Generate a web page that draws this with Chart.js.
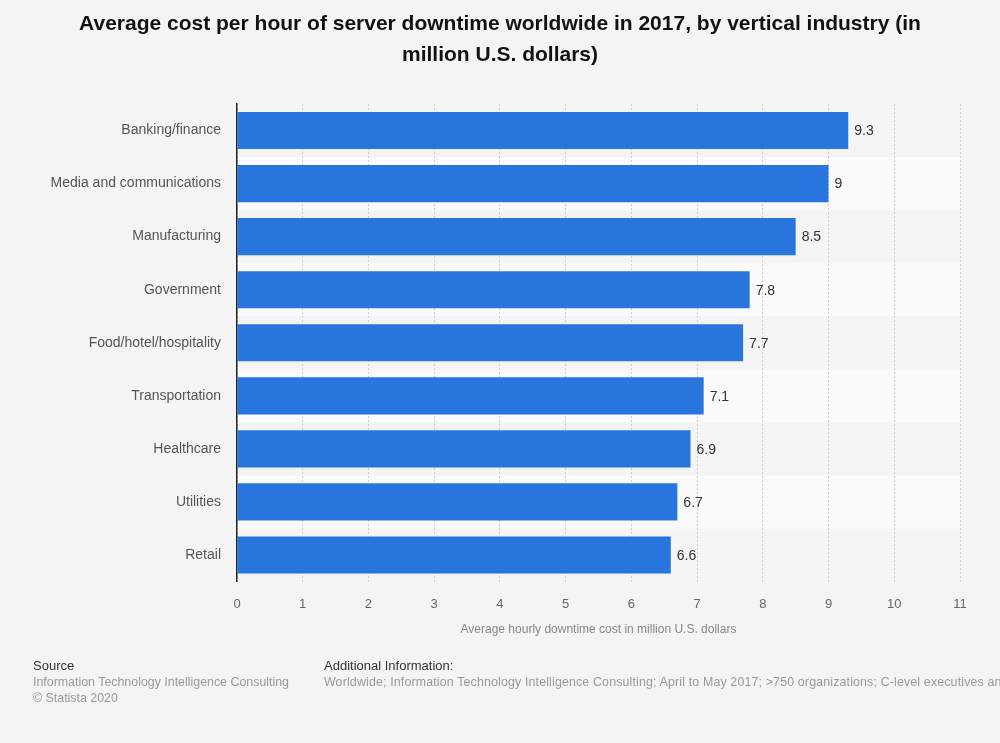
<!DOCTYPE html>
<html>
<head>
<meta charset="utf-8">
<script src="https://cdn.jsdelivr.net/npm/chart.js@4"></script>
<style>
  html, body { margin: 0; padding: 0; background: #f4f4f4; font-family: "Liberation Sans", Arial, sans-serif; }
  #wrap { position: relative; width: 1000px; height: 743px; overflow: hidden; }
  #chart { position: absolute; left: 0; top: 0; }
  .title { position: absolute; left: 0; top: 7px; width: 1000px; text-align: center; font-weight: bold; font-size: 21px; line-height: 31px; color: #111; }
  .foot { position: absolute; top: 658px; font-size: 12.4px; line-height: 16px; color: #999; white-space: nowrap; }
  .foot b { font-weight: normal; color: #333; font-size: 13px; display: block; }
  .wide { letter-spacing: 0.15px; }
</style>
</head>
<body>
<div id="wrap">
  <canvas id="chart" width="1000" height="743"></canvas>
  <div class="title">Average cost per hour of server downtime worldwide in 2017, by vertical industry (in<br>million U.S. dollars)</div>
  <div class="foot" style="left:33px"><b>Source</b>Information Technology Intelligence Consulting<br>© Statista 2020</div>
  <div class="foot" style="left:324px"><b>Additional Information:</b><span class="wide">Worldwide; Information Technology Intelligence Consulting; April to May 2017; &gt;750 organizations; C-level executives and IT managers</span></div>
</div>
<script>
// ── data ──
const industries = ['Banking/finance', 'Media and communications', 'Manufacturing', 'Government',
  'Food/hotel/hospitality', 'Transportation', 'Healthcare', 'Utilities', 'Retail'];
const costs = [9.3, 9, 8.5, 7.8, 7.7, 7.1, 6.9, 6.7, 6.6];
const xTicks = [0, 1, 2, 3, 4, 5, 6, 7, 8, 9, 10, 11];

const FONT = '"Liberation Sans", Arial, sans-serif';

// alternating row bands behind the grid
const bandPlugin = {
  id: 'bands',
  beforeDraw(chart) {
    const { ctx, chartArea, scales } = chart;
    const y = scales.y;
    const half = (y.getPixelForValue(1) - y.getPixelForValue(0)) / 2;
    ctx.save();
    ctx.fillStyle = '#fafafa';
    industries.forEach((_, i) => {
      if (i % 2 === 1) {
        const c = y.getPixelForValue(i);
        ctx.fillRect(chartArea.left, c - half, chartArea.right - chartArea.left, half * 2);
      }
    });
    ctx.restore();
  }
};

// value labels at bar ends
const valuePlugin = {
  id: 'values',
  afterDatasetsDraw(chart) {
    const { ctx } = chart;
    ctx.save();
    ctx.font = '14px ' + FONT;
    ctx.fillStyle = '#333';
    ctx.textBaseline = 'middle';
    chart.getDatasetMeta(0).data.forEach((bar, i) => {
      ctx.fillText(String(costs[i]), bar.x + 6, bar.y + 1);
    });
    ctx.restore();
  }
};

new Chart(document.getElementById('chart'), {
  type: 'bar',
  data: {
    labels: industries,
    datasets: [{
      data: costs,
      backgroundColor: '#2876dd',
      borderWidth: 0,
      categoryPercentage: 1,
      barPercentage: 0.7
    }]
  },
  options: {
    indexAxis: 'y',
    responsive: false,
    animation: false,
    layout: { padding: { top: 104, right: 40, left: 0, bottom: 106 } },
    plugins: { legend: { display: false }, tooltip: { enabled: false } },
    scales: {
      x: {
        min: 0, max: 11,
        afterBuildTicks(scale) { scale.ticks = xTicks.map(v => ({ value: v })); },
        afterFit(scale) { scale.height = 55.5; },
        grid: { color: '#cfcfcf', borderDash: [2, 2], drawTicks: false },
        border: { display: false, dash: [2, 2] },
        ticks: { color: '#666', font: { size: 13, family: FONT }, padding: 15 },
        title: {
          display: true,
          text: 'Average hourly downtime cost in million U.S. dollars',
          color: '#888',
          font: { size: 12, family: FONT },
          padding: { top: 4, bottom: 0 }
        }
      },
      y: {
        afterFit(scale) { scale.width = 237; },
        grid: { display: false, drawTicks: false },
        border: { display: true, color: '#222', width: 1.5 },
        ticks: { color: '#555', font: { size: 14, family: FONT, lineHeight: 1.5 }, padding: 16 }
      }
    }
  },
  plugins: [bandPlugin, valuePlugin]
});
</script>
</body>
</html>
